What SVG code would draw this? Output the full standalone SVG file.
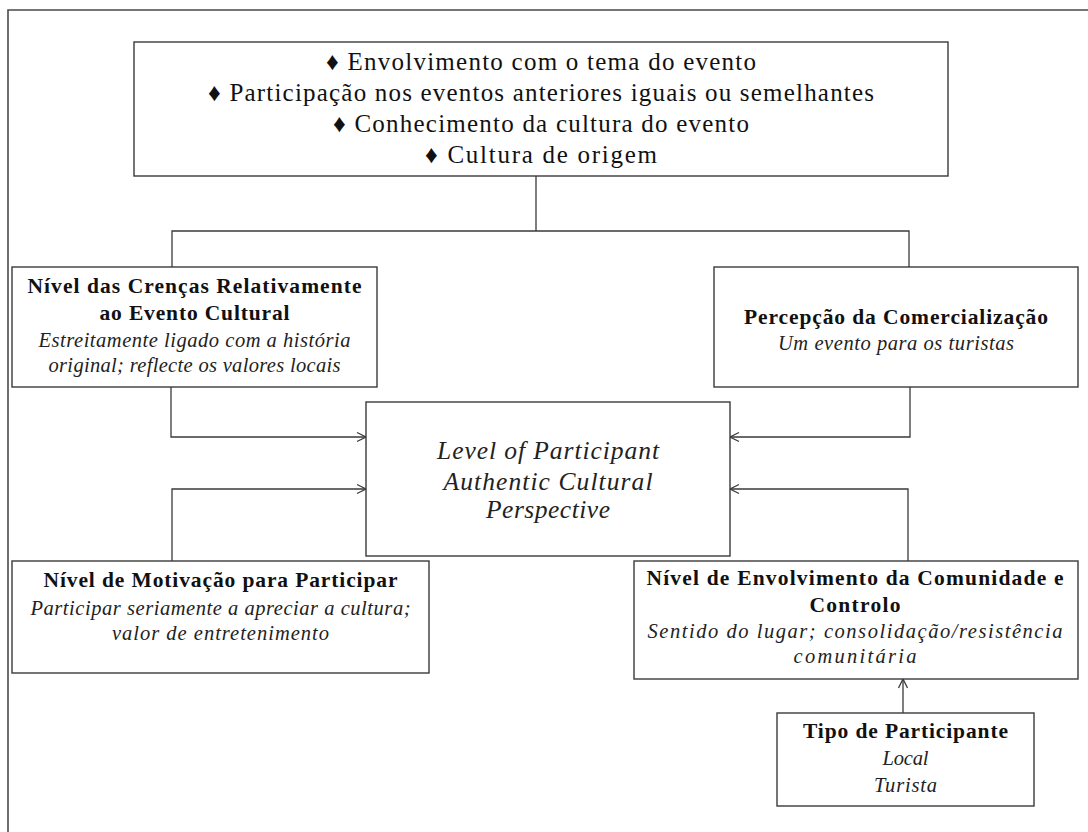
<svg xmlns="http://www.w3.org/2000/svg" width="1088" height="832" viewBox="0 0 1088 832">
  <defs>
    <marker id="open-arrow" markerUnits="userSpaceOnUse" markerWidth="12" markerHeight="12" viewBox="0 0 12 12" refX="10" refY="6" orient="auto">
      <path d="M1,1.5 L10,6 L1,10.5" fill="none" stroke="#3a3a3a" stroke-width="1.3"/>
    </marker>
    <style>
      .frame { fill: none; stroke: #4a4a4a; stroke-width: 1.6; }
      .box { fill: #ffffff; stroke: #3a3a3a; stroke-width: 1.4; }
      .link { fill: none; stroke: #3a3a3a; stroke-width: 1.3; }
      text { font-family: "Liberation Serif", "DejaVu Serif", serif; fill: #111; text-anchor: middle; }
      .list { font-size: 25px; }
      .title { font-size: 21.5px; font-weight: bold; }
      .note { font-size: 20.5px; font-style: italic; fill: #222; }
      .core { font-size: 25.5px; font-style: italic; fill: #222; }
    </style>
  </defs>

  <rect width="1088" height="832" fill="#ffffff"/>

  <!-- page frame: top and left rules -->
  <path class="frame" d="M8,832 L8,10 L1088,10"/>

  <!-- connectors -->
  <g id="connectors">
    <path class="link" d="M536,176 L536,231"/>
    <path class="link" d="M172,267 L172,231 L909,231 L909,267"/>
    <path class="link" d="M171,387 L171,437 L366,437" marker-end="url(#open-arrow)"/>
    <path class="link" d="M910,387 L910,437 L730,437" marker-end="url(#open-arrow)"/>
    <path class="link" d="M172,561 L172,489 L366,489" marker-end="url(#open-arrow)"/>
    <path class="link" d="M908,561 L908,489 L730,489" marker-end="url(#open-arrow)"/>
    <path class="link" d="M903,713 L903,679" marker-end="url(#open-arrow)"/>
  </g>

  <!-- antecedents list -->
  <g id="node-antecedents">
    <rect class="box" x="134" y="42" width="814" height="134"/>
    <text class="list" x="541" y="70" textLength="430" lengthAdjust="spacing">♦ Envolvimento com o tema do evento</text>
    <text class="list" x="541" y="101" textLength="666" lengthAdjust="spacing">♦ Participação nos eventos anteriores iguais ou semelhantes</text>
    <text class="list" x="541" y="132" textLength="416" lengthAdjust="spacing">♦ Conhecimento da cultura do evento</text>
    <text class="list" x="541" y="163" textLength="232" lengthAdjust="spacing">♦ Cultura de origem</text>
  </g>

  <!-- beliefs -->
  <g id="node-crencas">
    <rect class="box" x="12" y="267" width="365" height="120"/>
    <text class="title" x="194.5" y="293" textLength="334" lengthAdjust="spacing">Nível das Crenças Relativamente</text>
    <text class="title" x="194.5" y="320" textLength="190" lengthAdjust="spacing">ao Evento Cultural</text>
    <text class="note" x="194.5" y="347" textLength="312" lengthAdjust="spacing">Estreitamente ligado com a história</text>
    <text class="note" x="194.5" y="372" textLength="292" lengthAdjust="spacing">original; reflecte os valores locais</text>
  </g>

  <!-- commercialisation -->
  <g id="node-comercializacao">
    <rect class="box" x="714" y="267" width="364" height="120"/>
    <text class="title" x="896" y="324" textLength="304" lengthAdjust="spacing">Percepção da Comercialização</text>
    <text class="note" x="896" y="350" textLength="236" lengthAdjust="spacing">Um evento para os turistas</text>
  </g>

  <!-- central outcome -->
  <g id="node-perspective">
    <rect class="box" x="366" y="402" width="364" height="154"/>
    <text class="core" x="548" y="459" textLength="222" lengthAdjust="spacing">Level of Participant</text>
    <text class="core" x="548" y="490" textLength="209" lengthAdjust="spacing">Authentic Cultural</text>
    <text class="core" x="548" y="518" textLength="124" lengthAdjust="spacing">Perspective</text>
  </g>

  <!-- motivation -->
  <g id="node-motivacao">
    <rect class="box" x="12" y="561" width="417" height="112"/>
    <text class="title" x="220.5" y="587" textLength="354" lengthAdjust="spacing">Nível de Motivação para Participar</text>
    <text class="note" x="220.5" y="615" textLength="380" lengthAdjust="spacing">Participar seriamente a apreciar a cultura;</text>
    <text class="note" x="220.5" y="640" textLength="217" lengthAdjust="spacing">valor de entretenimento</text>
  </g>

  <!-- community involvement -->
  <g id="node-comunidade">
    <rect class="box" x="634" y="561" width="444" height="118"/>
    <text class="title" x="855" y="585" textLength="417" lengthAdjust="spacing">Nível de Envolvimento da Comunidade e</text>
    <text class="title" x="855" y="612" textLength="91" lengthAdjust="spacing">Controlo</text>
    <text class="note" x="855" y="638" textLength="415" lengthAdjust="spacing">Sentido do lugar; consolidação/resistência</text>
    <text class="note" x="855" y="663" textLength="123" lengthAdjust="spacing">comunitária</text>
  </g>

  <!-- participant type -->
  <g id="node-tipo">
    <rect class="box" x="777" y="713" width="257" height="93"/>
    <text class="title" x="905.5" y="738" textLength="205" lengthAdjust="spacing">Tipo de Participante</text>
    <text class="note" x="905.5" y="765" textLength="46" lengthAdjust="spacing">Local</text>
    <text class="note" x="905.5" y="792" textLength="63" lengthAdjust="spacing">Turista</text>
  </g>
</svg>
